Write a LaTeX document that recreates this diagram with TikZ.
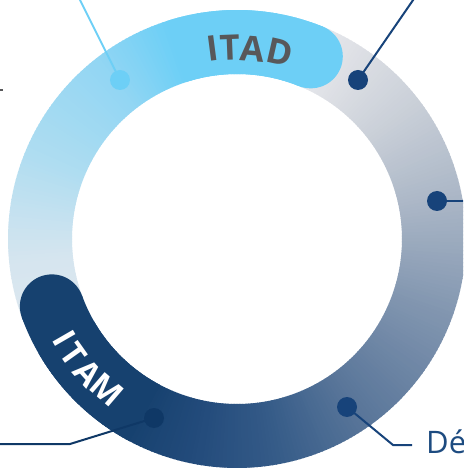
\documentclass[tikz,border=0pt]{standalone}
\usepackage{fontspec}
\setmainfont{Open Sans}
\definecolor{cA}{HTML}{E0E8EE}
\definecolor{cB}{HTML}{D5E5EF}
\definecolor{cC}{HTML}{ACDCF1}
\definecolor{cD}{HTML}{93D6F3}
\definecolor{cE}{HTML}{6DCFF6}
\definecolor{cF}{HTML}{E6E7EB}
\definecolor{cG}{HTML}{CDD2DA}
\definecolor{cH}{HTML}{AAB6C6}
\definecolor{cI}{HTML}{8296B0}
\definecolor{cJ}{HTML}{587599}
\definecolor{cK}{HTML}{355B88}
\definecolor{cL}{HTML}{244C7C}
\definecolor{cM}{HTML}{16416F}
\definecolor{itadblue}{HTML}{6DCFF6}
\definecolor{itamblue}{HTML}{16416F}
\definecolor{itadgray}{HTML}{58585A}
\definecolor{navy}{HTML}{17437A}
\definecolor{navydark}{HTML}{0F3866}
\definecolor{textblue}{HTML}{1D4B80}
\begin{document}
\begin{tikzpicture}[x=1pt,y=1pt,
  dotc/.style={circle,inner sep=0pt,minimum size=20pt},
  conn/.style={line width=2pt},
  itadl/.style={font=\fontsize{35}{35}\selectfont\bfseries,text=itadgray,inner sep=0pt},
  itaml/.style={font=\fontsize{33}{33}\selectfont\bfseries,text=white,inner sep=0pt}]
\useasboundingbox (-237,-229) rectangle (226,239);
\clip (-237,-229) rectangle (226,239);
% conic gradient ring
\foreach \a/\b/\ca/\cb in {210/185/cA/cB,185/155/cB/cC,155/128/cC/cD,128/108/cD/cE,108/68/cE/cE,68/66/cE/cF,66/40/cF/cG,40/10/cG/cH,10/-20/cH/cI,-20/-56/cI/cJ,-56/-80/cJ/cK,-80/-100/cK/cL,-100/-120/cL/cM,-120/-150/cM/cM}{
  \pgfmathtruncatemacro\n{max(1,abs(\a-\b))}
  \foreach \i in {1,...,\n}{
    \pgfmathsetmacro\s{\a-(\a-\b)*(\i-1)/\n+0.15}
    \pgfmathsetmacro\e{\a-(\a-\b)*\i/\n-0.15}
    \pgfmathtruncatemacro\p{100-100*(\i-0.5)/\n}
    \colorlet{segc}{\ca!\p!\cb}
    \fill[segc] (\s:165) arc[start angle=\s,end angle=\e,radius=165] -- (\e:229) arc[start angle=\e,end angle=\s,radius=229] -- cycle;
  }
}
% ITAD pill
\draw[line width=64pt,itadblue] (108:197) arc[start angle=108,end angle=68,radius=197];
\fill[itadblue] (68:197) circle[radius=32];
% ITAM pill
\draw[line width=64pt,itamblue] (200:197) arc[start angle=200,end angle=242,radius=197];
\fill[itamblue] (200:197) circle[radius=32];
% ITAD letters
\node[itadl,rotate=7.4] (itadI) at (97.4:192.5) {I};
\node[itadl,rotate=2.2] (itadT) at (92.2:191.5) {T};
\node[itadl,rotate=-4.7] (itadA) at (85.3:190.5) {A};
\node[itadl,rotate=-12.8] (itadD) at (77.2:192) {D};
% ITAM letters
\node[itaml,rotate=300] (itamI) at (210:199) {I};
\node[itaml,rotate=305.3] (itamT) at (215.3:200) {T};
\node[itaml,rotate=312] (itamA) at (222:200) {A};
\node[itaml,rotate=319.3] (itamM) at (229.3:199) {M};
% endpoints
\coordinate (e1) at (-158,241);
\coordinate (e2) at (177.5,241);
\coordinate (e3) at (230,38);
\coordinate (b4) at (156,-206);
\coordinate (e4) at (175,-206);
\coordinate (b5) at (-167,-205);
\coordinate (e5) at (-240,-205);
\coordinate (t1) at (-240,149);
\coordinate (t2) at (-234,149);
% dots
\node[dotc,fill=itadblue] (d1) at (-117,159) {};
\node[dotc,fill=navy] (d2) at (121,159) {};
\node[dotc,fill=navy] (d3) at (200,38) {};
\node[dotc,fill=navy] (d4) at (110,-168) {};
\node[dotc,fill=navydark] (d5) at (-83,-179) {};
% connectors
\draw[conn,itadblue] (d1.center) -- (e1);
\draw[conn,navy] (d2.center) -- (e2);
\draw[conn,navy] (d3.center) -- (e3);
\draw[conn,navy] (d4.center) -- (b4) -- (e4);
\draw[conn,navydark] (d5.center) -- (b5) -- (e5);
\draw[line width=1.5pt,itadgray] (t1) -- (t2);
\node[anchor=base west,inner sep=0pt,text=textblue,font=\fontsize{31}{31}\selectfont] (lab) at (189,-214) {Dé};
\end{tikzpicture}
\end{document}
